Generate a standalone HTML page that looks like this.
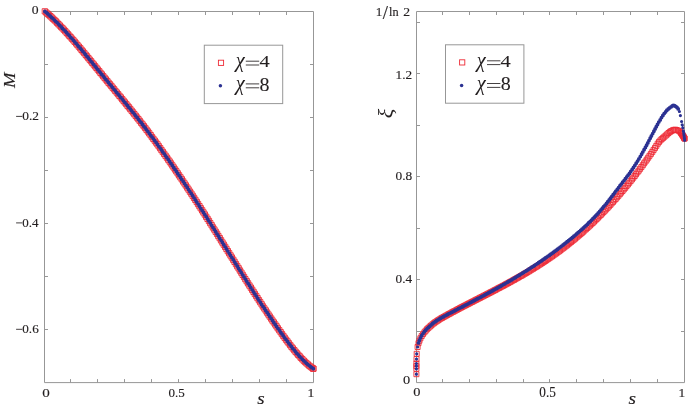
<!DOCTYPE html>
<html lang="en">
<head>
<meta charset="utf-8">
<title>M and xi versus s</title>
<style>
html,body{margin:0;padding:0;background:#fff;}
body{width:692px;height:412px;overflow:hidden;font-family:"Liberation Serif",serif;}
svg{display:block;will-change:transform;}
text{font-family:"Liberation Serif",serif;fill:#231f20;stroke:#231f20;stroke-width:0.15px;vector-effect:non-scaling-stroke;}
</style>
</head>
<body>
<svg width="692" height="412" viewBox="0 0 692 412">
<rect width="692" height="412" fill="#fff"/>
<path d="M44.5 11.5H313.5V382.6H44.5zM70.5 382.6v-3.5M70.5 11.5v3.5M97.5 382.6v-3.5M97.5 11.5v3.5M124.5 382.6v-3.5M124.5 11.5v3.5M151.5 382.6v-3.5M151.5 11.5v3.5M178.5 382.6v-3.5M178.5 11.5v3.5M205.5 382.6v-3.5M205.5 11.5v3.5M232.5 382.6v-3.5M232.5 11.5v3.5M259.5 382.6v-3.5M259.5 11.5v3.5M286.5 382.6v-3.5M286.5 11.5v3.5M44.5 64.5h3.5M313.5 64.5h-3.5M44.5 117.5h3.5M313.5 117.5h-3.5M44.5 170.5h3.5M313.5 170.5h-3.5M44.5 223.5h3.5M313.5 223.5h-3.5M44.5 276.5h3.5M313.5 276.5h-3.5M44.5 329.5h3.5M313.5 329.5h-3.5" fill="none" stroke="#979797" stroke-width="1"/>
<path d="M416.5 11.5H684.5V382.6H416.5zM442.5 382.6v-3.5M442.5 11.5v3.5M469.5 382.6v-3.5M469.5 11.5v3.5M496.5 382.6v-3.5M496.5 11.5v3.5M523.5 382.6v-3.5M523.5 11.5v3.5M549.5 382.6v-3.5M549.5 11.5v3.5M576.5 382.6v-3.5M576.5 11.5v3.5M603.5 382.6v-3.5M603.5 11.5v3.5M630.5 382.6v-3.5M630.5 11.5v3.5M657.5 382.6v-3.5M657.5 11.5v3.5M416.5 331.5h3.5M684.5 331.5h-3.5M416.5 279.5h3.5M684.5 279.5h-3.5M416.5 228.5h3.5M684.5 228.5h-3.5M416.5 176.5h3.5M684.5 176.5h-3.5M416.5 125.5h3.5M684.5 125.5h-3.5M416.5 73.5h3.5M684.5 73.5h-3.5M416.5 22.5h3.5M684.5 22.5h-3.5" fill="none" stroke="#979797" stroke-width="1"/>
<path d="M42.2 8.7h5.3v5.3h-5.3zM43.6 9.9h5.3v5.3h-5.3zM45.0 11.1h5.3v5.3h-5.3zM46.3 12.3h5.3v5.3h-5.3zM47.7 13.5h5.3v5.3h-5.3zM49.0 14.8h5.3v5.3h-5.3zM50.4 16.1h5.3v5.3h-5.3zM51.8 17.4h5.3v5.3h-5.3zM53.1 18.7h5.3v5.3h-5.3zM54.5 20.1h5.3v5.3h-5.3zM55.8 21.5h5.3v5.3h-5.3zM57.2 22.9h5.3v5.3h-5.3zM58.5 24.3h5.3v5.3h-5.3zM59.9 25.7h5.3v5.3h-5.3zM61.3 27.1h5.3v5.3h-5.3zM62.6 28.6h5.3v5.3h-5.3zM64.0 30.1h5.3v5.3h-5.3zM65.3 31.6h5.3v5.3h-5.3zM66.7 33.1h5.3v5.3h-5.3zM68.0 34.6h5.3v5.3h-5.3zM69.4 36.1h5.3v5.3h-5.3zM70.8 37.7h5.3v5.3h-5.3zM72.1 39.2h5.3v5.3h-5.3zM73.5 40.8h5.3v5.3h-5.3zM74.8 42.4h5.3v5.3h-5.3zM76.2 44.0h5.3v5.3h-5.3zM77.6 45.6h5.3v5.3h-5.3zM78.9 47.2h5.3v5.3h-5.3zM80.2 48.8h5.3v5.3h-5.3zM81.6 50.4h5.3v5.3h-5.3zM83.0 52.1h5.3v5.3h-5.3zM84.3 53.7h5.3v5.3h-5.3zM85.7 55.4h5.3v5.3h-5.3zM87.0 57.0h5.3v5.3h-5.3zM88.4 58.6h5.3v5.3h-5.3zM89.7 60.3h5.3v5.3h-5.3zM91.1 61.9h5.3v5.3h-5.3zM92.4 63.6h5.3v5.3h-5.3zM93.8 65.2h5.3v5.3h-5.3zM95.1 66.9h5.3v5.3h-5.3zM96.5 68.5h5.3v5.3h-5.3zM97.8 70.2h5.3v5.3h-5.3zM99.2 71.8h5.3v5.3h-5.3zM100.5 73.5h5.3v5.3h-5.3zM101.9 75.1h5.3v5.3h-5.3zM103.2 76.8h5.3v5.3h-5.3zM104.6 78.4h5.3v5.3h-5.3zM105.9 80.1h5.3v5.3h-5.3zM107.3 81.7h5.3v5.3h-5.3zM108.7 83.3h5.3v5.3h-5.3zM110.0 85.0h5.3v5.3h-5.3zM111.4 86.6h5.3v5.3h-5.3zM112.7 88.3h5.3v5.3h-5.3zM114.1 89.9h5.3v5.3h-5.3zM115.4 91.5h5.3v5.3h-5.3zM116.8 93.2h5.3v5.3h-5.3zM118.2 94.8h5.3v5.3h-5.3zM119.5 96.5h5.3v5.3h-5.3zM120.9 98.1h5.3v5.3h-5.3zM122.2 99.8h5.3v5.3h-5.3zM123.6 101.4h5.3v5.3h-5.3zM124.9 103.1h5.3v5.3h-5.3zM126.3 104.7h5.3v5.3h-5.3zM127.6 106.4h5.3v5.3h-5.3zM129.0 108.1h5.3v5.3h-5.3zM130.4 109.8h5.3v5.3h-5.3zM131.7 111.5h5.3v5.3h-5.3zM133.1 113.2h5.3v5.3h-5.3zM134.4 114.9h5.3v5.3h-5.3zM135.8 116.6h5.3v5.3h-5.3zM137.1 118.3h5.3v5.3h-5.3zM138.5 120.1h5.3v5.3h-5.3zM139.9 121.8h5.3v5.3h-5.3zM141.2 123.6h5.3v5.3h-5.3zM142.6 125.3h5.3v5.3h-5.3zM143.9 127.1h5.3v5.3h-5.3zM145.3 128.9h5.3v5.3h-5.3zM146.6 130.7h5.3v5.3h-5.3zM148.0 132.5h5.3v5.3h-5.3zM149.3 134.4h5.3v5.3h-5.3zM150.7 136.2h5.3v5.3h-5.3zM152.1 138.0h5.3v5.3h-5.3zM153.4 139.9h5.3v5.3h-5.3zM154.8 141.7h5.3v5.3h-5.3zM156.1 143.6h5.3v5.3h-5.3zM157.5 145.5h5.3v5.3h-5.3zM158.8 147.4h5.3v5.3h-5.3zM160.2 149.3h5.3v5.3h-5.3zM161.5 151.2h5.3v5.3h-5.3zM162.9 153.1h5.3v5.3h-5.3zM164.3 155.0h5.3v5.3h-5.3zM165.6 157.0h5.3v5.3h-5.3zM167.0 158.9h5.3v5.3h-5.3zM168.3 160.8h5.3v5.3h-5.3zM169.7 162.8h5.3v5.3h-5.3zM171.0 164.8h5.3v5.3h-5.3zM172.4 166.8h5.3v5.3h-5.3zM173.7 168.7h5.3v5.3h-5.3zM175.1 170.7h5.3v5.3h-5.3zM176.4 172.7h5.3v5.3h-5.3zM177.8 174.7h5.3v5.3h-5.3zM179.2 176.7h5.3v5.3h-5.3zM180.5 178.8h5.3v5.3h-5.3zM181.9 180.8h5.3v5.3h-5.3zM183.2 182.8h5.3v5.3h-5.3zM184.6 184.9h5.3v5.3h-5.3zM185.9 186.9h5.3v5.3h-5.3zM187.3 189.0h5.3v5.3h-5.3zM188.7 191.0h5.3v5.3h-5.3zM190.0 193.1h5.3v5.3h-5.3zM191.4 195.2h5.3v5.3h-5.3zM192.7 197.2h5.3v5.3h-5.3zM194.1 199.3h5.3v5.3h-5.3zM195.4 201.4h5.3v5.3h-5.3zM196.8 203.5h5.3v5.3h-5.3zM198.1 205.6h5.3v5.3h-5.3zM199.5 207.7h5.3v5.3h-5.3zM200.8 209.8h5.3v5.3h-5.3zM202.2 211.9h5.3v5.3h-5.3zM203.5 214.1h5.3v5.3h-5.3zM204.9 216.2h5.3v5.3h-5.3zM206.3 218.3h5.3v5.3h-5.3zM207.6 220.5h5.3v5.3h-5.3zM209.0 222.6h5.3v5.3h-5.3zM210.3 224.8h5.3v5.3h-5.3zM211.7 226.9h5.3v5.3h-5.3zM213.0 229.1h5.3v5.3h-5.3zM214.4 231.2h5.3v5.3h-5.3zM215.7 233.4h5.3v5.3h-5.3zM217.1 235.5h5.3v5.3h-5.3zM218.4 237.7h5.3v5.3h-5.3zM219.8 239.9h5.3v5.3h-5.3zM221.1 242.0h5.3v5.3h-5.3zM222.5 244.2h5.3v5.3h-5.3zM223.8 246.3h5.3v5.3h-5.3zM225.2 248.5h5.3v5.3h-5.3zM226.5 250.6h5.3v5.3h-5.3zM227.9 252.8h5.3v5.3h-5.3zM229.2 254.9h5.3v5.3h-5.3zM230.6 257.1h5.3v5.3h-5.3zM231.9 259.2h5.3v5.3h-5.3zM233.3 261.4h5.3v5.3h-5.3zM234.6 263.6h5.3v5.3h-5.3zM236.0 265.7h5.3v5.3h-5.3zM237.3 267.9h5.3v5.3h-5.3zM238.7 270.0h5.3v5.3h-5.3zM240.0 272.2h5.3v5.3h-5.3zM241.4 274.3h5.3v5.3h-5.3zM242.7 276.5h5.3v5.3h-5.3zM244.1 278.6h5.3v5.3h-5.3zM245.4 280.7h5.3v5.3h-5.3zM246.8 282.9h5.3v5.3h-5.3zM248.2 285.0h5.3v5.3h-5.3zM249.5 287.1h5.3v5.3h-5.3zM250.9 289.2h5.3v5.3h-5.3zM252.2 291.3h5.3v5.3h-5.3zM253.6 293.4h5.3v5.3h-5.3zM254.9 295.5h5.3v5.3h-5.3zM256.3 297.6h5.3v5.3h-5.3zM257.6 299.6h5.3v5.3h-5.3zM259.0 301.7h5.3v5.3h-5.3zM260.3 303.8h5.3v5.3h-5.3zM261.7 305.8h5.3v5.3h-5.3zM263.1 307.8h5.3v5.3h-5.3zM264.4 309.9h5.3v5.3h-5.3zM265.8 311.9h5.3v5.3h-5.3zM267.1 313.9h5.3v5.3h-5.3zM268.5 315.9h5.3v5.3h-5.3zM269.8 317.9h5.3v5.3h-5.3zM271.2 319.8h5.3v5.3h-5.3zM272.6 321.8h5.3v5.3h-5.3zM273.9 323.7h5.3v5.3h-5.3zM275.2 325.7h5.3v5.3h-5.3zM276.6 327.6h5.3v5.3h-5.3zM278.0 329.5h5.3v5.3h-5.3zM279.3 331.4h5.3v5.3h-5.3zM280.7 333.3h5.3v5.3h-5.3zM282.0 335.1h5.3v5.3h-5.3zM283.4 337.0h5.3v5.3h-5.3zM284.8 338.8h5.3v5.3h-5.3zM286.1 340.6h5.3v5.3h-5.3zM287.5 342.4h5.3v5.3h-5.3zM288.8 344.1h5.3v5.3h-5.3zM290.2 345.8h5.3v5.3h-5.3zM291.6 347.5h5.3v5.3h-5.3zM292.9 349.1h5.3v5.3h-5.3zM294.3 350.7h5.3v5.3h-5.3zM295.6 352.2h5.3v5.3h-5.3zM297.0 353.7h5.3v5.3h-5.3zM298.3 355.2h5.3v5.3h-5.3zM299.7 356.6h5.3v5.3h-5.3zM301.1 358.0h5.3v5.3h-5.3zM302.4 359.3h5.3v5.3h-5.3zM303.8 360.6h5.3v5.3h-5.3zM305.2 361.8h5.3v5.3h-5.3zM306.6 363.0h5.3v5.3h-5.3zM307.9 364.0h5.3v5.3h-5.3zM309.2 365.0h5.3v5.3h-5.3zM310.6 366.0h5.3v5.3h-5.3zM310.7 366.0h5.3v5.3h-5.3z" fill="none" stroke="#ee2a35" stroke-width="0.9"/>
<path d="M44.9 11.4h0M46.3 12.5h0M47.6 13.7h0M49.0 14.9h0M50.3 16.2h0M51.7 17.5h0M53.0 18.7h0M54.4 20.1h0M55.8 21.4h0M57.1 22.7h0M58.5 24.1h0M59.8 25.5h0M61.2 26.9h0M62.5 28.4h0M63.9 29.8h0M65.3 31.2h0M66.6 32.7h0M68.0 34.2h0M69.3 35.7h0M70.7 37.3h0M72.1 38.8h0M73.4 40.3h0M74.8 41.9h0M76.1 43.5h0M77.5 45.1h0M78.8 46.7h0M80.2 48.2h0M81.6 49.8h0M82.9 51.4h0M84.3 53.1h0M85.6 54.7h0M87.0 56.4h0M88.3 58.0h0M89.7 59.6h0M91.0 61.3h0M92.4 62.9h0M93.7 64.6h0M95.1 66.2h0M96.4 67.9h0M97.8 69.5h0M99.1 71.2h0M100.5 72.8h0M101.8 74.5h0M103.2 76.1h0M104.5 77.8h0M105.9 79.4h0M107.2 81.1h0M108.6 82.7h0M109.9 84.3h0M111.3 86.0h0M112.7 87.6h0M114.0 89.3h0M115.4 90.9h0M116.7 92.6h0M118.1 94.2h0M119.4 95.8h0M120.8 97.5h0M122.2 99.1h0M123.5 100.8h0M124.9 102.4h0M126.2 104.1h0M127.6 105.7h0M128.9 107.4h0M130.3 109.1h0M131.7 110.8h0M133.0 112.4h0M134.4 114.1h0M135.7 115.8h0M137.1 117.5h0M138.4 119.3h0M139.8 121.0h0M141.2 122.7h0M142.5 124.5h0M143.8 126.2h0M145.2 128.0h0M146.6 129.8h0M147.9 131.6h0M149.3 133.4h0M150.6 135.2h0M152.0 137.0h0M153.4 138.8h0M154.7 140.7h0M156.1 142.5h0M157.4 144.4h0M158.8 146.3h0M160.1 148.1h0M161.5 150.0h0M162.8 151.9h0M164.2 153.8h0M165.6 155.8h0M166.9 157.7h0M168.3 159.6h0M169.6 161.5h0M171.0 163.5h0M172.3 165.5h0M173.7 167.4h0M175.0 169.4h0M176.4 171.4h0M177.7 173.4h0M179.1 175.4h0M180.5 177.4h0M181.8 179.4h0M183.2 181.4h0M184.5 183.4h0M185.9 185.4h0M187.2 187.5h0M188.6 189.6h0M189.9 191.6h0M191.3 193.7h0M192.7 195.7h0M194.0 197.8h0M195.3 199.9h0M196.7 202.0h0M198.1 204.1h0M199.4 206.2h0M200.8 208.3h0M202.1 210.4h0M203.5 212.5h0M204.8 214.6h0M206.2 216.7h0M207.6 218.9h0M208.9 221.0h0M210.3 223.1h0M211.6 225.3h0M213.0 227.4h0M214.3 229.6h0M215.7 231.7h0M217.0 233.9h0M218.4 236.0h0M219.7 238.2h0M221.1 240.3h0M222.4 242.5h0M223.8 244.7h0M225.1 246.8h0M226.5 249.0h0M227.8 251.1h0M229.2 253.3h0M230.5 255.4h0M231.9 257.6h0M233.2 259.7h0M234.6 261.9h0M235.9 264.0h0M237.3 266.2h0M238.6 268.4h0M240.0 270.5h0M241.3 272.7h0M242.7 274.8h0M244.0 277.0h0M245.4 279.1h0M246.7 281.2h0M248.1 283.4h0M249.5 285.5h0M250.8 287.6h0M252.2 289.8h0M253.5 291.9h0M254.9 294.0h0M256.2 296.1h0M257.6 298.2h0M258.9 300.2h0M260.3 302.3h0M261.6 304.4h0M263.0 306.4h0M264.4 308.5h0M265.7 310.5h0M267.1 312.5h0M268.4 314.5h0M269.8 316.5h0M271.1 318.5h0M272.5 320.5h0M273.8 322.5h0M275.2 324.5h0M276.5 326.4h0M277.9 328.3h0M279.3 330.2h0M280.6 332.2h0M282.0 334.0h0M283.3 335.9h0M284.7 337.8h0M286.0 339.6h0M287.4 341.4h0M288.8 343.2h0M290.1 345.0h0M291.5 346.7h0M292.8 348.4h0M294.2 350.1h0M295.6 351.8h0M296.9 353.4h0M298.3 354.9h0M299.6 356.4h0M301.0 357.8h0M302.3 359.3h0M303.7 360.7h0M305.1 362.0h0M306.5 363.3h0M307.8 364.5h0M309.2 365.6h0M310.5 366.7h0M311.9 367.7h0M313.3 368.7h0M313.3 368.7h0" fill="none" stroke="#2b3192" stroke-width="3.8" stroke-linecap="round"/>
<path d="M413.9 371.7h5.0v5.0h-5.0zM413.9 366.3h5.0v5.0h-5.0zM413.9 363.6h5.0v5.0h-5.0zM413.9 361.1h5.0v5.0h-5.0zM414.0 356.5h5.0v5.0h-5.0zM414.2 351.3h5.0v5.0h-5.0zM415.1 344.5h5.0v5.0h-5.0zM416.0 340.7h5.0v5.0h-5.0zM416.9 338.2h5.0v5.0h-5.0zM417.9 335.8h5.0v5.0h-5.0zM419.2 333.5h5.0v5.0h-5.0zM420.5 331.5h5.0v5.0h-5.0zM421.9 329.8h5.0v5.0h-5.0zM423.2 328.2h5.0v5.0h-5.0zM424.6 326.7h5.0v5.0h-5.0zM425.9 325.4h5.0v5.0h-5.0zM427.3 324.1h5.0v5.0h-5.0zM428.6 323.0h5.0v5.0h-5.0zM430.0 321.8h5.0v5.0h-5.0zM431.4 320.7h5.0v5.0h-5.0zM432.7 319.7h5.0v5.0h-5.0zM434.1 318.8h5.0v5.0h-5.0zM435.4 317.9h5.0v5.0h-5.0zM436.8 317.0h5.0v5.0h-5.0zM438.2 316.1h5.0v5.0h-5.0zM439.5 315.4h5.0v5.0h-5.0zM440.9 314.6h5.0v5.0h-5.0zM442.2 313.9h5.0v5.0h-5.0zM443.6 313.1h5.0v5.0h-5.0zM445.0 312.3h5.0v5.0h-5.0zM446.3 311.6h5.0v5.0h-5.0zM447.7 310.9h5.0v5.0h-5.0zM449.0 310.1h5.0v5.0h-5.0zM450.4 309.4h5.0v5.0h-5.0zM451.7 308.7h5.0v5.0h-5.0zM453.1 308.0h5.0v5.0h-5.0zM454.4 307.3h5.0v5.0h-5.0zM455.8 306.5h5.0v5.0h-5.0zM457.1 305.8h5.0v5.0h-5.0zM458.5 305.1h5.0v5.0h-5.0zM459.8 304.4h5.0v5.0h-5.0zM461.2 303.7h5.0v5.0h-5.0zM462.6 303.0h5.0v5.0h-5.0zM463.9 302.3h5.0v5.0h-5.0zM465.3 301.6h5.0v5.0h-5.0zM466.6 300.9h5.0v5.0h-5.0zM468.0 300.2h5.0v5.0h-5.0zM469.4 299.5h5.0v5.0h-5.0zM470.7 298.8h5.0v5.0h-5.0zM472.1 298.1h5.0v5.0h-5.0zM473.4 297.4h5.0v5.0h-5.0zM474.8 296.7h5.0v5.0h-5.0zM476.2 296.0h5.0v5.0h-5.0zM477.5 295.3h5.0v5.0h-5.0zM478.9 294.6h5.0v5.0h-5.0zM480.3 293.9h5.0v5.0h-5.0zM481.6 293.2h5.0v5.0h-5.0zM483.0 292.5h5.0v5.0h-5.0zM484.3 291.8h5.0v5.0h-5.0zM485.7 291.1h5.0v5.0h-5.0zM487.1 290.4h5.0v5.0h-5.0zM488.4 289.7h5.0v5.0h-5.0zM489.8 289.0h5.0v5.0h-5.0zM491.1 288.3h5.0v5.0h-5.0zM492.5 287.6h5.0v5.0h-5.0zM493.8 286.9h5.0v5.0h-5.0zM495.2 286.1h5.0v5.0h-5.0zM496.6 285.4h5.0v5.0h-5.0zM497.9 284.7h5.0v5.0h-5.0zM499.3 284.0h5.0v5.0h-5.0zM500.6 283.3h5.0v5.0h-5.0zM502.0 282.6h5.0v5.0h-5.0zM503.3 281.8h5.0v5.0h-5.0zM504.7 281.1h5.0v5.0h-5.0zM506.0 280.4h5.0v5.0h-5.0zM507.4 279.6h5.0v5.0h-5.0zM508.7 278.9h5.0v5.0h-5.0zM510.1 278.1h5.0v5.0h-5.0zM511.5 277.4h5.0v5.0h-5.0zM512.8 276.6h5.0v5.0h-5.0zM514.2 275.8h5.0v5.0h-5.0zM515.5 275.1h5.0v5.0h-5.0zM516.9 274.3h5.0v5.0h-5.0zM518.3 273.5h5.0v5.0h-5.0zM519.6 272.8h5.0v5.0h-5.0zM521.0 272.0h5.0v5.0h-5.0zM522.3 271.2h5.0v5.0h-5.0zM523.7 270.4h5.0v5.0h-5.0zM525.0 269.6h5.0v5.0h-5.0zM526.4 268.8h5.0v5.0h-5.0zM527.8 267.9h5.0v5.0h-5.0zM529.1 267.1h5.0v5.0h-5.0zM530.5 266.3h5.0v5.0h-5.0zM531.8 265.4h5.0v5.0h-5.0zM533.2 264.6h5.0v5.0h-5.0zM534.5 263.8h5.0v5.0h-5.0zM535.9 262.9h5.0v5.0h-5.0zM537.3 262.0h5.0v5.0h-5.0zM538.6 261.1h5.0v5.0h-5.0zM540.0 260.3h5.0v5.0h-5.0zM541.3 259.4h5.0v5.0h-5.0zM542.7 258.5h5.0v5.0h-5.0zM544.0 257.6h5.0v5.0h-5.0zM545.4 256.6h5.0v5.0h-5.0zM546.8 255.7h5.0v5.0h-5.0zM548.1 254.8h5.0v5.0h-5.0zM549.5 253.8h5.0v5.0h-5.0zM550.8 252.9h5.0v5.0h-5.0zM552.2 251.9h5.0v5.0h-5.0zM553.6 250.9h5.0v5.0h-5.0zM554.9 249.9h5.0v5.0h-5.0zM556.3 249.0h5.0v5.0h-5.0zM557.6 248.0h5.0v5.0h-5.0zM559.0 246.9h5.0v5.0h-5.0zM560.3 245.9h5.0v5.0h-5.0zM561.7 244.9h5.0v5.0h-5.0zM563.1 243.8h5.0v5.0h-5.0zM564.4 242.8h5.0v5.0h-5.0zM565.8 241.7h5.0v5.0h-5.0zM567.1 240.6h5.0v5.0h-5.0zM568.5 239.5h5.0v5.0h-5.0zM569.8 238.4h5.0v5.0h-5.0zM571.2 237.3h5.0v5.0h-5.0zM572.5 236.2h5.0v5.0h-5.0zM573.9 235.0h5.0v5.0h-5.0zM575.2 233.9h5.0v5.0h-5.0zM576.6 232.7h5.0v5.0h-5.0zM578.0 231.6h5.0v5.0h-5.0zM579.3 230.4h5.0v5.0h-5.0zM580.7 229.2h5.0v5.0h-5.0zM582.0 227.9h5.0v5.0h-5.0zM583.4 226.7h5.0v5.0h-5.0zM584.7 225.5h5.0v5.0h-5.0zM586.1 224.2h5.0v5.0h-5.0zM587.4 223.0h5.0v5.0h-5.0zM588.8 221.7h5.0v5.0h-5.0zM590.2 220.4h5.0v5.0h-5.0zM591.5 219.1h5.0v5.0h-5.0zM592.9 217.8h5.0v5.0h-5.0zM594.2 216.4h5.0v5.0h-5.0zM595.6 215.1h5.0v5.0h-5.0zM596.9 213.7h5.0v5.0h-5.0zM598.3 212.4h5.0v5.0h-5.0zM599.6 211.0h5.0v5.0h-5.0zM601.0 209.6h5.0v5.0h-5.0zM602.3 208.2h5.0v5.0h-5.0zM603.7 206.8h5.0v5.0h-5.0zM605.1 205.3h5.0v5.0h-5.0zM606.4 203.9h5.0v5.0h-5.0zM607.8 202.4h5.0v5.0h-5.0zM609.1 200.9h5.0v5.0h-5.0zM610.5 199.4h5.0v5.0h-5.0zM611.8 197.9h5.0v5.0h-5.0zM613.2 196.4h5.0v5.0h-5.0zM614.6 194.8h5.0v5.0h-5.0zM615.9 193.3h5.0v5.0h-5.0zM617.3 191.7h5.0v5.0h-5.0zM618.6 190.1h5.0v5.0h-5.0zM620.0 188.5h5.0v5.0h-5.0zM621.3 186.9h5.0v5.0h-5.0zM622.7 185.3h5.0v5.0h-5.0zM624.0 183.6h5.0v5.0h-5.0zM625.4 182.0h5.0v5.0h-5.0zM626.7 180.3h5.0v5.0h-5.0zM628.1 178.6h5.0v5.0h-5.0zM629.5 176.9h5.0v5.0h-5.0zM630.8 175.2h5.0v5.0h-5.0zM632.2 173.5h5.0v5.0h-5.0zM633.5 171.7h5.0v5.0h-5.0zM634.9 169.9h5.0v5.0h-5.0zM636.2 168.2h5.0v5.0h-5.0zM637.6 166.3h5.0v5.0h-5.0zM638.9 164.5h5.0v5.0h-5.0zM640.3 162.7h5.0v5.0h-5.0zM641.6 160.8h5.0v5.0h-5.0zM643.0 159.0h5.0v5.0h-5.0zM644.3 157.1h5.0v5.0h-5.0zM645.7 155.2h5.0v5.0h-5.0zM647.0 153.3h5.0v5.0h-5.0zM648.4 151.4h5.0v5.0h-5.0zM649.8 149.4h5.0v5.0h-5.0zM651.1 147.4h5.0v5.0h-5.0zM652.5 145.4h5.0v5.0h-5.0zM653.8 143.4h5.0v5.0h-5.0zM655.2 141.2h5.0v5.0h-5.0zM656.5 139.4h5.0v5.0h-5.0zM657.9 137.9h5.0v5.0h-5.0zM659.2 136.6h5.0v5.0h-5.0zM660.6 135.4h5.0v5.0h-5.0zM661.9 134.2h5.0v5.0h-5.0zM663.3 133.0h5.0v5.0h-5.0zM664.7 131.8h5.0v5.0h-5.0zM666.0 130.5h5.0v5.0h-5.0zM667.4 129.4h5.0v5.0h-5.0zM668.7 128.6h5.0v5.0h-5.0zM670.1 127.9h5.0v5.0h-5.0zM671.4 127.4h5.0v5.0h-5.0zM672.8 127.2h5.0v5.0h-5.0zM674.1 127.5h5.0v5.0h-5.0zM675.5 128.0h5.0v5.0h-5.0zM676.9 128.7h5.0v5.0h-5.0zM678.0 129.7h5.0v5.0h-5.0zM678.6 130.5h5.0v5.0h-5.0zM679.1 131.2h5.0v5.0h-5.0zM679.6 132.0h5.0v5.0h-5.0zM680.1 132.8h5.0v5.0h-5.0zM680.6 133.5h5.0v5.0h-5.0zM681.1 134.3h5.0v5.0h-5.0zM681.5 135.1h5.0v5.0h-5.0zM682.0 135.9h5.0v5.0h-5.0zM682.1 136.1h5.0v5.0h-5.0z" fill="none" stroke="#ee2a35" stroke-width="0.9"/>
<path d="M418.5 342.9h0M419.3 340.4h0M420.4 338.0h0M421.6 335.7h0M423.0 333.6h0M424.3 331.8h0M425.7 330.2h0M427.0 328.8h0M428.4 327.4h0M429.8 326.2h0M431.1 325.0h0M432.5 323.8h0M433.8 322.8h0M435.2 321.7h0M436.6 320.8h0M437.9 319.9h0M439.3 319.0h0M440.6 318.2h0M442.0 317.4h0M443.4 316.7h0M444.7 315.9h0M446.1 315.2h0M447.5 314.5h0M448.8 313.8h0M450.2 313.1h0M451.5 312.4h0M452.9 311.7h0M454.3 311.0h0M455.6 310.3h0M457.0 309.6h0M458.4 308.8h0M459.8 308.1h0M461.1 307.4h0M462.5 306.7h0M463.9 306.0h0M465.2 305.3h0M466.6 304.6h0M468.0 303.9h0M469.3 303.1h0M470.7 302.4h0M472.1 301.7h0M473.4 301.0h0M474.8 300.3h0M476.2 299.5h0M477.5 298.8h0M478.9 298.1h0M480.3 297.4h0M481.6 296.6h0M483.0 295.9h0M484.3 295.2h0M485.7 294.4h0M487.0 293.7h0M488.4 293.0h0M489.8 292.2h0M491.1 291.5h0M492.5 290.7h0M493.8 290.0h0M495.2 289.2h0M496.5 288.5h0M497.9 287.7h0M499.2 287.0h0M500.6 286.2h0M501.9 285.4h0M503.3 284.6h0M504.7 283.9h0M506.0 283.1h0M507.4 282.3h0M508.8 281.5h0M510.1 280.7h0M511.5 279.9h0M512.8 279.1h0M514.2 278.3h0M515.5 277.5h0M516.9 276.6h0M518.2 275.8h0M519.6 275.0h0M521.0 274.1h0M522.3 273.3h0M523.7 272.4h0M525.0 271.6h0M526.4 270.7h0M527.8 269.9h0M529.1 269.0h0M530.4 268.1h0M531.8 267.2h0M533.2 266.4h0M534.5 265.5h0M535.9 264.6h0M537.3 263.6h0M538.6 262.7h0M540.0 261.8h0M541.3 260.9h0M542.7 259.9h0M544.1 259.0h0M545.4 258.0h0M546.8 257.1h0M548.1 256.1h0M549.5 255.2h0M550.8 254.2h0M552.2 253.2h0M553.6 252.2h0M554.9 251.2h0M556.3 250.2h0M557.6 249.2h0M559.0 248.1h0M560.3 247.1h0M561.7 246.1h0M563.1 245.0h0M564.4 243.9h0M565.8 242.9h0M567.1 241.8h0M568.5 240.7h0M569.8 239.6h0M571.2 238.5h0M572.6 237.4h0M573.9 236.3h0M575.3 235.1h0M576.6 234.0h0M578.0 232.8h0M579.3 231.6h0M580.7 230.4h0M582.0 229.2h0M583.4 228.0h0M584.8 226.7h0M586.1 225.5h0M587.5 224.2h0M588.8 222.8h0M590.2 221.5h0M591.6 220.1h0M592.9 218.8h0M594.3 217.3h0M595.6 215.9h0M597.0 214.5h0M598.3 213.0h0M599.7 211.4h0M601.0 209.9h0M602.4 208.3h0M603.7 206.7h0M605.1 205.1h0M606.5 203.4h0M607.8 201.7h0M609.2 200.0h0M610.5 198.2h0M611.9 196.5h0M613.2 194.7h0M614.6 192.9h0M615.9 191.1h0M617.3 189.4h0M618.6 187.6h0M620.0 185.8h0M621.3 184.1h0M622.7 182.3h0M624.1 180.6h0M625.4 178.8h0M626.8 177.0h0M628.1 175.2h0M629.5 173.4h0M630.8 171.4h0M632.2 169.5h0M633.5 167.5h0M634.9 165.4h0M636.2 163.3h0M637.6 161.1h0M638.9 158.9h0M640.3 156.6h0M641.6 154.3h0M642.8 152.1h0M644.1 149.8h0M645.4 147.5h0M646.6 145.2h0M647.8 142.9h0M649.0 140.6h0M650.2 138.3h0M651.4 135.9h0M652.7 133.6h0M653.9 131.3h0M655.1 129.0h0M656.3 126.7h0M657.5 124.4h0M658.8 122.1h0M660.2 119.9h0M661.5 117.6h0M662.9 115.5h0M664.2 113.6h0M665.6 111.9h0M666.9 110.3h0M668.3 109.0h0M669.6 107.9h0M671.0 106.9h0M672.3 106.0h0M673.2 105.5h0M674.5 105.7h0M675.8 106.4h0M677.0 107.5h0M678.2 108.9h0" fill="none" stroke="#2b3192" stroke-width="3.9" stroke-linecap="round"/>
<path d="M416.4 374.2h0M416.4 368.8h0M416.4 366.1h0M416.4 363.6h0M416.5 359.0h0M416.7 353.8h0M417.6 347.0h0M679.4 111.5h0M680.4 115.6h0M681.6 121.5h0M682.2 124.8h0M682.8 127.8h0M683.4 131.2h0M683.7 132.8h0M683.9 134.3h0M684.1 135.8h0M684.3 137.3h0M684.5 138.8h0M684.6 140.3h0" fill="none" stroke="#2b3192" stroke-width="3.2" stroke-linecap="round"/>
<rect x="204.3" y="45.2" width="78.4" height="58.4" fill="#fff" stroke="#979797" stroke-width="1"/>
<rect x="218.4" y="60.2" width="5.2" height="5.2" fill="none" stroke="#ee2a35" stroke-width="0.9"/>
<circle cx="220.4" cy="85.8" r="1.75" fill="#2b3192"/>
<text transform="matrix(1.0185 0 0 1.0119 235.63 67.09)" font-size="20" font-style="italic" style="stroke-width:0px">χ</text>
<text transform="matrix(1.0237 0 0 0.8815 259.39 67.20)" font-size="20" style="stroke-width:0.1px">4</text>
<text transform="matrix(1.0185 0 0 1.0193 235.63 90.36)" font-size="20" font-style="italic" style="stroke-width:0px">χ</text>
<text transform="matrix(1.0024 0 0 0.9037 259.54 90.82)" font-size="20" style="stroke-width:0.1px">8</text>
<path d="M245.8 61.2H259.2" stroke="#231f20" stroke-width="0.85" fill="none"/>
<path d="M245.8 65.0H259.2" stroke="#231f20" stroke-width="0.85" fill="none"/>
<path d="M245.8 83.9H259.2" stroke="#231f20" stroke-width="0.85" fill="none"/>
<path d="M245.8 87.8H259.2" stroke="#231f20" stroke-width="0.85" fill="none"/>
<rect x="445.5" y="44.8" width="78.4" height="58.4" fill="#fff" stroke="#979797" stroke-width="1"/>
<rect x="459.6" y="59.8" width="5.2" height="5.2" fill="none" stroke="#ee2a35" stroke-width="0.9"/>
<circle cx="461.6" cy="85.4" r="1.75" fill="#2b3192"/>
<text transform="matrix(1.0185 0 0 1.0119 476.83 66.69)" font-size="20" font-style="italic" style="stroke-width:0px">χ</text>
<text transform="matrix(1.0237 0 0 0.8815 500.59 66.80)" font-size="20" style="stroke-width:0.1px">4</text>
<text transform="matrix(1.0185 0 0 1.0193 476.83 89.96)" font-size="20" font-style="italic" style="stroke-width:0px">χ</text>
<text transform="matrix(1.0024 0 0 0.9037 500.74 90.42)" font-size="20" style="stroke-width:0.1px">8</text>
<path d="M487.0 60.8H500.4" stroke="#231f20" stroke-width="0.85" fill="none"/>
<path d="M487.0 64.6H500.4" stroke="#231f20" stroke-width="0.85" fill="none"/>
<path d="M487.0 83.5H500.4" stroke="#231f20" stroke-width="0.85" fill="none"/>
<path d="M487.0 87.4H500.4" stroke="#231f20" stroke-width="0.85" fill="none"/>
<text transform="matrix(0.6840 0 0 0.6370 31.68 13.67)" font-size="20">0</text>
<path d="M16.1 116.4H22.3" stroke="#231f20" stroke-width="0.85" fill="none"/>
<text transform="matrix(0.6720 0 0 0.6627 22.29 120.21)" font-size="20">0.2</text>
<path d="M16.1 222.9H22.3" stroke="#231f20" stroke-width="0.85" fill="none"/>
<text transform="matrix(0.6501 0 0 0.6627 22.31 226.61)" font-size="20">0.4</text>
<path d="M16.1 329.3H22.3" stroke="#231f20" stroke-width="0.85" fill="none"/>
<text transform="matrix(0.6578 0 0 0.6627 22.30 332.91)" font-size="20">0.6</text>
<text transform="matrix(0.7547 0 0 0.6296 42.13 396.77)" font-size="20">0</text>
<text transform="matrix(0.6522 0 0 0.6627 168.40 396.81)" font-size="20">0.5</text>
<text transform="matrix(0.6818 0 0 0.6364 307.40 397.00)" font-size="20">1</text>
<text transform="matrix(0.6534 0 0 0.6288 375.85 16.10)" font-size="20">1</text>
<text transform="matrix(0.9353 0 0 0.9193 382.80 18.92)" font-size="20">/</text>
<text transform="matrix(0.6124 0 0 0.6628 389.06 16.10)" font-size="20">ln</text>
<text transform="matrix(0.6858 0 0 0.6344 403.30 16.10)" font-size="20">2</text>
<text transform="matrix(0.6640 0 0 0.6435 395.53 78.92)" font-size="20">1.2</text>
<text transform="matrix(0.6687 0 0 0.6627 395.59 179.81)" font-size="20">0.8</text>
<text transform="matrix(0.6647 0 0 0.6554 395.59 282.92)" font-size="20">0.4</text>
<text transform="matrix(0.7193 0 0 0.6370 402.95 383.77)" font-size="20">0</text>
<text transform="matrix(0.7193 0 0 0.6444 413.35 396.47)" font-size="20">0</text>
<text transform="matrix(0.6607 0 0 0.6775 539.30 396.71)" font-size="20">0.5</text>
<text transform="matrix(0.6676 0 0 0.6515 678.43 396.80)" font-size="20">1</text>
<text transform="matrix(0.9510 0 0 0.8420 257.27 404.13)" font-size="20" font-style="italic">s</text>
<text transform="matrix(0.9654 0 0 0.8420 628.57 403.93)" font-size="20" font-style="italic">s</text>
<text transform="matrix(0 -0.9259 0.8473 0 15.00 87.98)" font-size="20" font-style="italic">M</text>
<text transform="matrix(0 -1.1041 1.0400 0 393.44 118.25)" font-size="20" font-style="italic" style="stroke-width:0px">ξ</text>
</svg>
</body>
</html>
